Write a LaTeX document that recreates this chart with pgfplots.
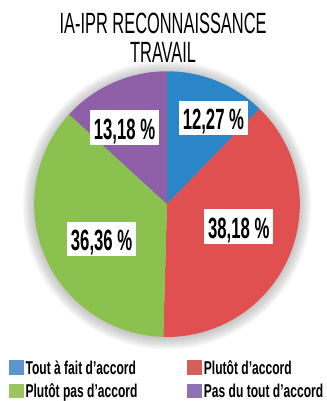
\documentclass[border=0pt]{standalone}
\usepackage{pgfplots}
\pgfplotsset{compat=1.18}
\usepackage{fontspec}
\setmainfont{Liberation Sans}
\newfontfamily\titlefont{Liberation Sans}[FakeStretch=0.56]
\newfontfamily\labfont{Liberation Sans}[FakeStretch=0.57]
\newfontfamily\legfont{Liberation Sans}[FakeStretch=0.65]
\definecolor{cblue}{HTML}{2A86C6}
\definecolor{cred}{HTML}{E05050}
\definecolor{cgreen}{HTML}{8BC14E}
\definecolor{cpurple}{HTML}{8F5FA8}
\definecolor{lblue}{HTML}{5A96CC}
\definecolor{lred}{HTML}{D65F5A}
\definecolor{lgreen}{HTML}{9CC55E}
\definecolor{lpurple}{HTML}{8F72B4}
% values (%)
\def\va{12.27}\def\vb{38.18}\def\vc{36.36}\def\vd{13.18}
\pgfmathsetmacro\aA{0}
\pgfmathsetmacro\aB{\va*3.6}
\pgfmathsetmacro\aC{(\va+\vb)*3.6}
\pgfmathsetmacro\aD{(\va+\vb+\vc)*3.6}
\pgfmathsetmacro\aE{(\va+\vb+\vc+\vd)*3.6}
\def\cx{171}\def\cy{192}\def\pieR{136}
\begin{document}
\begin{tikzpicture}
\begin{axis}[
  width=334pt, height=401pt, scale only axis,
  xmin=0, xmax=334, ymin=0, ymax=401,
  axis line style={draw=none}, ticks=none, clip=false,
  legend columns=2,
  legend cell align=left,
  legend style={draw=none, fill=none, inner sep=0pt, at={(axis cs:9,34)}, anchor=north west,
     font=\legfont\bfseries\fontsize{19}{19}\selectfont,
     /tikz/every even column/.append style={column sep=49pt},
     row sep=4pt},
  legend image code/.code={\path[#1, draw=none] (0pt,-7pt) rectangle (15pt,8pt);},
]
% soft shadow
\pgfplotsinvokeforeach{1,2,3,4,5,6,7,8,9,10,11,12}{
  \fill[black, opacity=0.02] (axis cs:171,191) circle[radius=136pt+#1pt];
}
\addplot[forget plot, fill=cblue, draw=none, domain=\aA:\aB, samples=80] ({\cx+\pieR*sin(x)},{\cy+\pieR*cos(x)}) -- (axis cs:171,192) -- cycle;
\addplot[forget plot, fill=cred, draw=none, domain=\aB:\aC, samples=120] ({\cx+\pieR*sin(x)},{\cy+\pieR*cos(x)}) -- (axis cs:171,192) -- cycle;
\addplot[forget plot, fill=cgreen, draw=none, domain=\aC:\aD, samples=120] ({\cx+\pieR*sin(x)},{\cy+\pieR*cos(x)}) -- (axis cs:171,192) -- cycle;
\addplot[forget plot, fill=cpurple, draw=none, domain=\aD:\aE, samples=80] ({\cx+\pieR*sin(x)},{\cy+\pieR*cos(x)}) -- (axis cs:171,192) -- cycle;
% labels
\tikzset{lab/.style={fill=white, inner xsep=4pt, inner ysep=0pt, text height=29.5pt, text depth=5.5pt,
   font=\labfont\bfseries\fontsize{30}{30}\selectfont}}
\node[lab] at (axis cs:218.5,280.5) {12,27 \%};
\node[lab] at (axis cs:244.5,169) {38,18 \%};
\node[lab] at (axis cs:104,156.5) {36,36 \%};
\node[lab] at (axis cs:127.5,270.5) {13,18 \%};
% title
\node[font=\titlefont\fontsize{30}{30}\selectfont] at (axis cs:167,377) {IA-IPR RECONNAISSANCE};
\node[font=\titlefont\fontsize{30}{30}\selectfont] at (axis cs:167,347) {TRAVAIL};
% legend
\addlegendimage{fill=lblue}\addlegendentry{Tout à fait d’accord}
\addlegendimage{fill=lred}\addlegendentry{Plutôt d’accord}
\addlegendimage{fill=lgreen}\addlegendentry{Plutôt pas d’accord}
\addlegendimage{fill=lpurple}\addlegendentry{Pas du tout d’accord}
\end{axis}
\end{tikzpicture}
\end{document}
